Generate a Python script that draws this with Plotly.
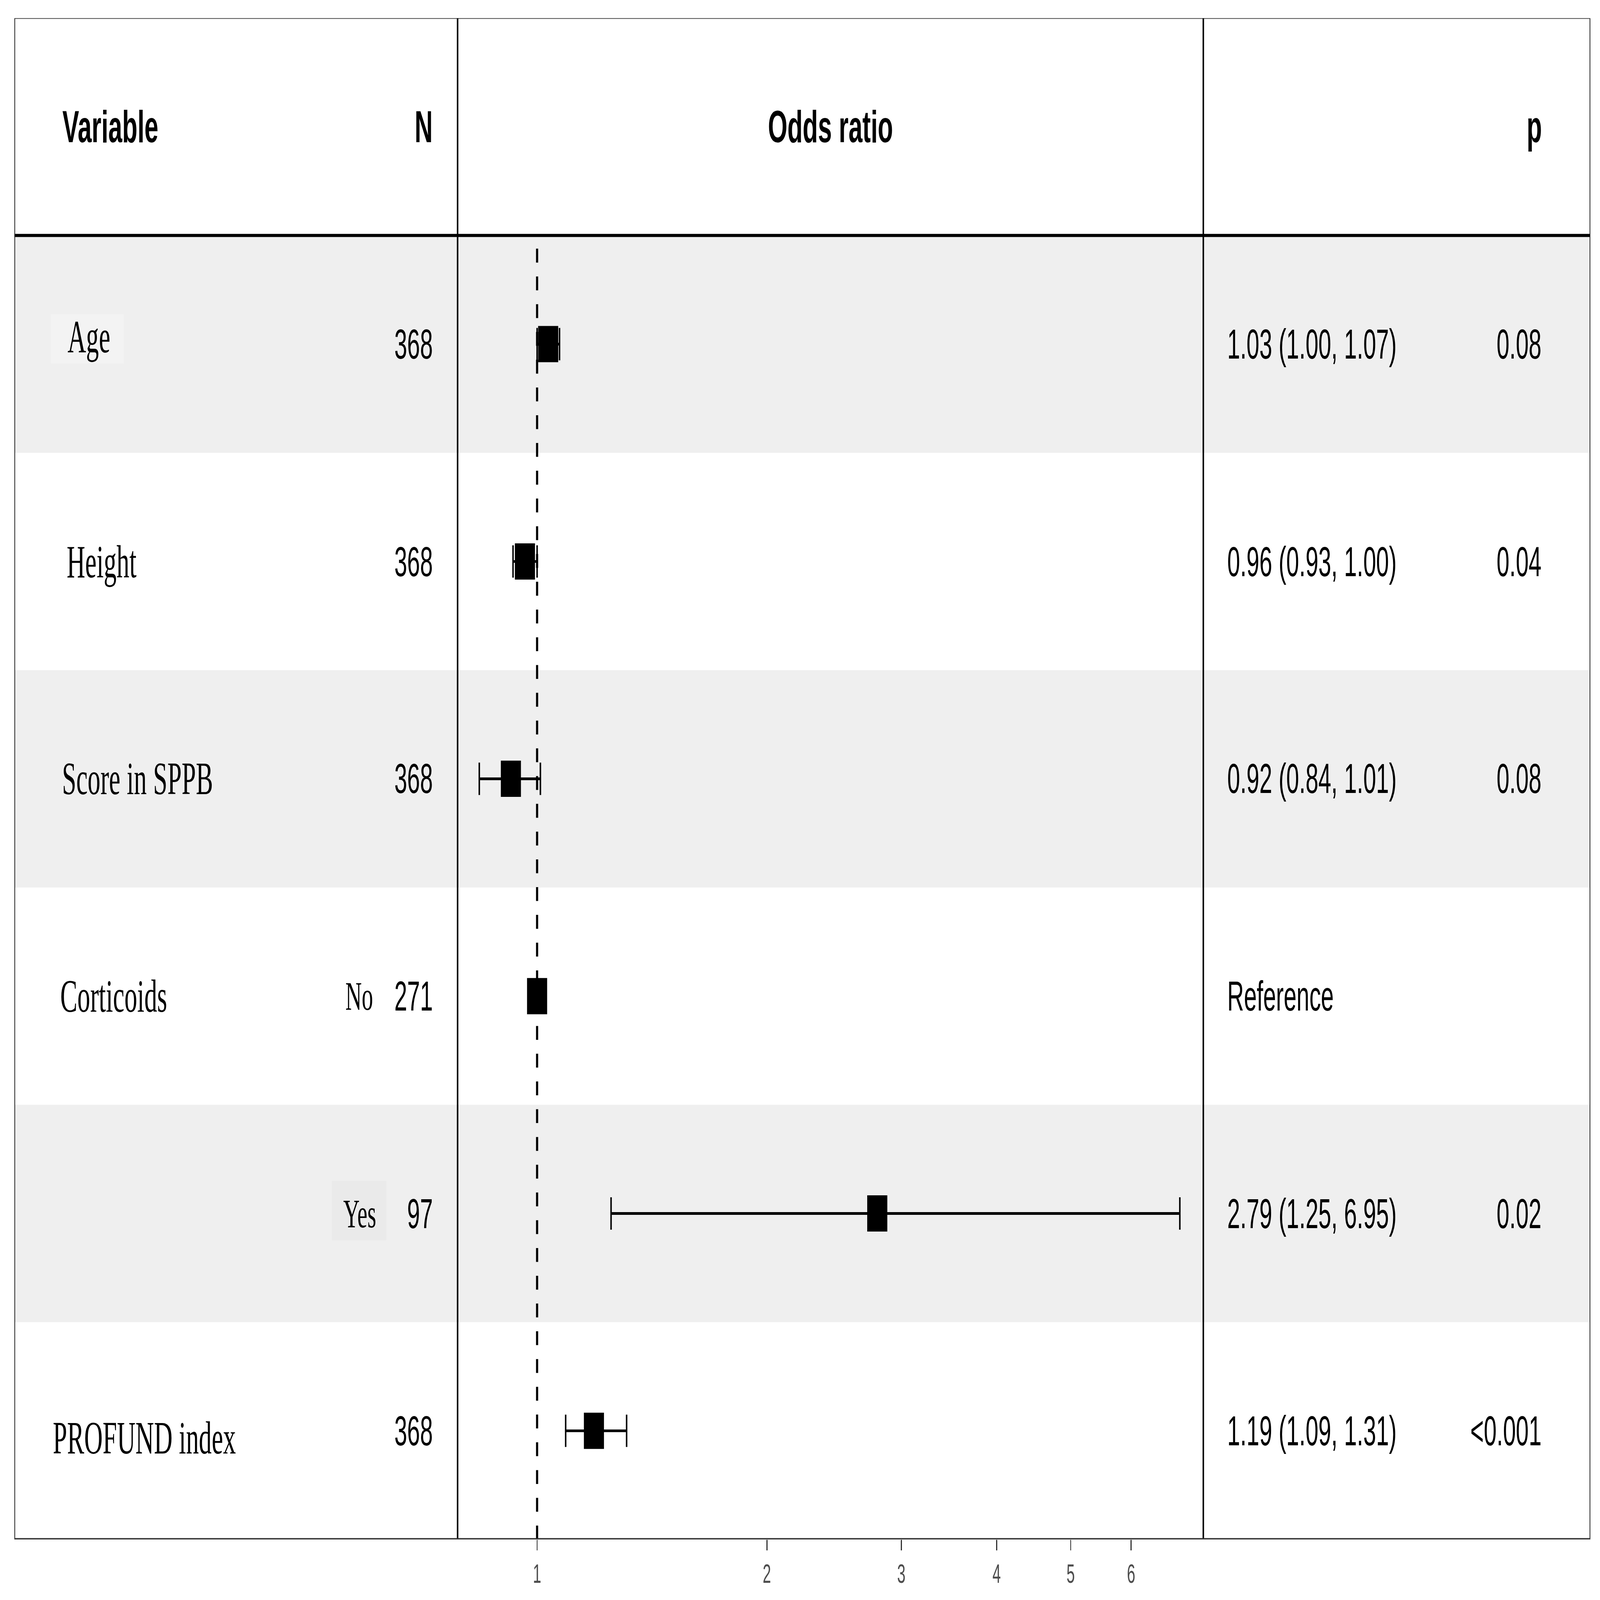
import math
import plotly.graph_objects as go

# ---------------- data ----------------
headers = ["Variable", "N", "Odds ratio", "p"]
variables = ["Age", "Height", "Score in SPPB", "Corticoids", "", "PROFUND index"]
levels = ["", "", "", "No", "Yes", ""]
n_obs = ["368", "368", "368", "271", "97", "368"]
estimate = [1.034, 0.964, 0.924, 1.00, 2.79, 1.187]
ci_low = [1.00, 0.93, 0.84, None, 1.25, 1.09]
ci_high = [1.07, 1.00, 1.01, None, 6.95, 1.31]
est_labels = ["1.03 (1.00, 1.07)", "0.96 (0.93, 1.00)", "0.92 (0.84, 1.01)",
              "Reference", "2.79 (1.25, 6.95)", "1.19 (1.09, 1.31)"]
p_labels = ["0.08", "0.04", "0.08", "", "0.02", "<0.001"]
null_value = 1
tick_values = [1, 2, 3, 4, 5, 6]
tick_labels = ["1", "2", "3", "4", "5", "6"]
x_limits = [0.7868, 7.46]

# ---------------- layout geometry (pixels) ----------------
W, H = 7486, 4150
TOP, BOT, LEFT, RIGHT = 47, 3993, 69, 7439
SEP1, SEP2 = 2141, 5630
label_x = [314, 310, 288, 280, 245, 245]
label_yshift = [19, 0, 0, 0, 0, -18]
level_x = [0, 0, 0, 1614, 1604, 0]
N_RIGHT = 2027
EST_LEFT = 5740
P_RIGHT = 7214
# faint background patches behind some pasted labels (x0, y0, x1, y1, colour)
patches = [(238, 815, 580, 943, "#f3f3f3"), (1553, 3063, 1808, 3217, "#eaeaea")]


def px(x):
    return x / W


def py(y):
    return 1 - y / H


SANS = "Liberation Sans, Arial, sans-serif"
SERIF = "Liberation Serif, Times New Roman, serif"

nrows = len(variables)
row_y = [nrows - 0.5 - k for k in range(nrows)]
header_y = nrows + 0.5

fig = go.Figure()

# reference (null) dashed line
fig.add_trace(go.Scatter(
    x=[null_value, null_value], y=[0, nrows], mode="lines",
    line=dict(color="black", width=10, dash="36px,36px"),
    showlegend=False, hoverinfo="skip",
))

ci_idx = [k for k in range(nrows) if ci_low[k] is not None]
ref_idx = [k for k in range(nrows) if ci_low[k] is None]

fig.add_trace(go.Scatter(
    x=[estimate[k] for k in ci_idx],
    y=[row_y[k] for k in ci_idx],
    mode="markers",
    marker=dict(symbol="square", size=94, color="black", line=dict(width=0)),
    error_x=dict(type="data", symmetric=False,
                 array=[ci_high[k] - estimate[k] for k in ci_idx],
                 arrayminus=[estimate[k] - ci_low[k] for k in ci_idx],
                 color="black", thickness=7, width=42),
    showlegend=False, hoverinfo="skip",
))
fig.add_trace(go.Scatter(
    x=[estimate[k] for k in ref_idx],
    y=[row_y[k] for k in ref_idx],
    mode="markers",
    marker=dict(symbol="square", size=94, color="black", line=dict(width=0)),
    showlegend=False, hoverinfo="skip",
))

shapes = []
for k in range(0, nrows, 2):
    shapes.append(dict(type="rect", xref="paper", yref="y",
                       x0=px(LEFT), x1=px(RIGHT), y0=nrows - k - 1, y1=nrows - k,
                       fillcolor="#efefef", line=dict(width=0), layer="below"))
for (x0, y0, x1, y1, c) in patches:
    shapes.append(dict(type="rect", xref="paper", yref="paper",
                       x0=px(x0), x1=px(x1), y0=py(y1), y1=py(y0),
                       fillcolor=c, line=dict(width=0), layer="below"))
shapes.append(dict(type="rect", xref="paper", yref="y", x0=px(LEFT), x1=px(RIGHT),
                   y0=0, y1=nrows + 1, line=dict(color="#333333", width=4),
                   fillcolor="rgba(0,0,0,0)"))
shapes.append(dict(type="line", xref="paper", yref="y", x0=px(LEFT), x1=px(RIGHT),
                   y0=nrows, y1=nrows, line=dict(color="black", width=8)))
for sx in (SEP1, SEP2):
    shapes.append(dict(type="line", xref="paper", yref="y", x0=px(sx), x1=px(sx),
                       y0=0, y1=nrows + 1, line=dict(color="black", width=7)))
shapes.append(dict(type="line", xref="paper", yref="y", x0=px(LEFT), x1=px(RIGHT),
                   y0=0, y1=0, line=dict(color="#333333", width=7)))

ann = []
hfont = dict(family=SANS, size=117, color="black", weight="bold")
ann.append(dict(text=headers[0], x=px(290), xanchor="left"))
ann.append(dict(text=headers[1], x=px(N_RIGHT), xanchor="right"))
ann.append(dict(text=headers[2], x=px((SEP1 + SEP2) / 2), xanchor="center"))
ann.append(dict(text=headers[3], x=px(P_RIGHT + 2), xanchor="right"))
for a in ann:
    a.update(xref="paper", yref="y", y=header_y, yanchor="middle",
             showarrow=False, font=hfont)

vfont = dict(family=SANS, size=108, color="black")
lfont = dict(family=SERIF, size=120, color="black")
levfont = dict(family=SERIF, size=106, color="black")
for k in range(nrows):
    if variables[k]:
        ann.append(dict(text=variables[k], x=px(label_x[k]), xanchor="left",
                        y=row_y[k], yshift=label_yshift[k], font=lfont))
    if levels[k]:
        ann.append(dict(text=levels[k], x=px(level_x[k]), xanchor="left",
                        y=row_y[k], font=levfont))
    ann.append(dict(text=n_obs[k], x=px(N_RIGHT), xanchor="right", y=row_y[k], font=vfont))
    ann.append(dict(text=est_labels[k], x=px(EST_LEFT), xanchor="left", y=row_y[k], font=vfont))
    if p_labels[k]:
        ann.append(dict(text=p_labels[k], x=px(P_RIGHT), xanchor="right", y=row_y[k], font=vfont))
for a in ann:
    a.setdefault("xref", "paper")
    a.setdefault("yref", "y")
    a.setdefault("yanchor", "middle")
    a.setdefault("showarrow", False)

fig.update_layout(
    width=W, height=H,
    margin=dict(l=0, r=0, t=0, b=0),
    paper_bgcolor="white", plot_bgcolor="rgba(0,0,0,0)",
    shapes=shapes, annotations=ann,
    xaxis=dict(type="log", domain=[px(SEP1), px(SEP2)],
               range=[math.log10(x_limits[0]), math.log10(x_limits[1])],
               tickvals=tick_values, ticktext=tick_labels,
               ticks="outside", ticklen=27, tickwidth=5, tickcolor="#333333",
               tickfont=dict(family=SANS, size=70, color="#4d4d4d"),
               showgrid=False, zeroline=False, showline=False, fixedrange=True),
    yaxis=dict(domain=[py(BOT), py(TOP)], range=[0, nrows + 1], visible=False,
               fixedrange=True),
)

# Fit the fixed-size figure into the actual browser viewport (identity at 7486x4150).
fit_js = """
(function(){
  var gd = document.getElementById('{plot_id}');
  document.documentElement.style.margin = '0';
  document.documentElement.style.overflow = 'hidden';
  document.body.style.margin = '0';
  document.body.style.overflow = 'hidden';
  var sx = window.innerWidth / %d, sy = window.innerHeight / %d;
  if (Math.abs(sx - 1) > 0.002 || Math.abs(sy - 1) > 0.002) {
    gd.style.transformOrigin = '0 0';
    gd.style.transform = 'scale(' + sx + ',' + sy + ')';
  }
})();
""" % (W, H)

fig.write_html("out.html", config={"displayModeBar": False}, post_script=fit_js)
